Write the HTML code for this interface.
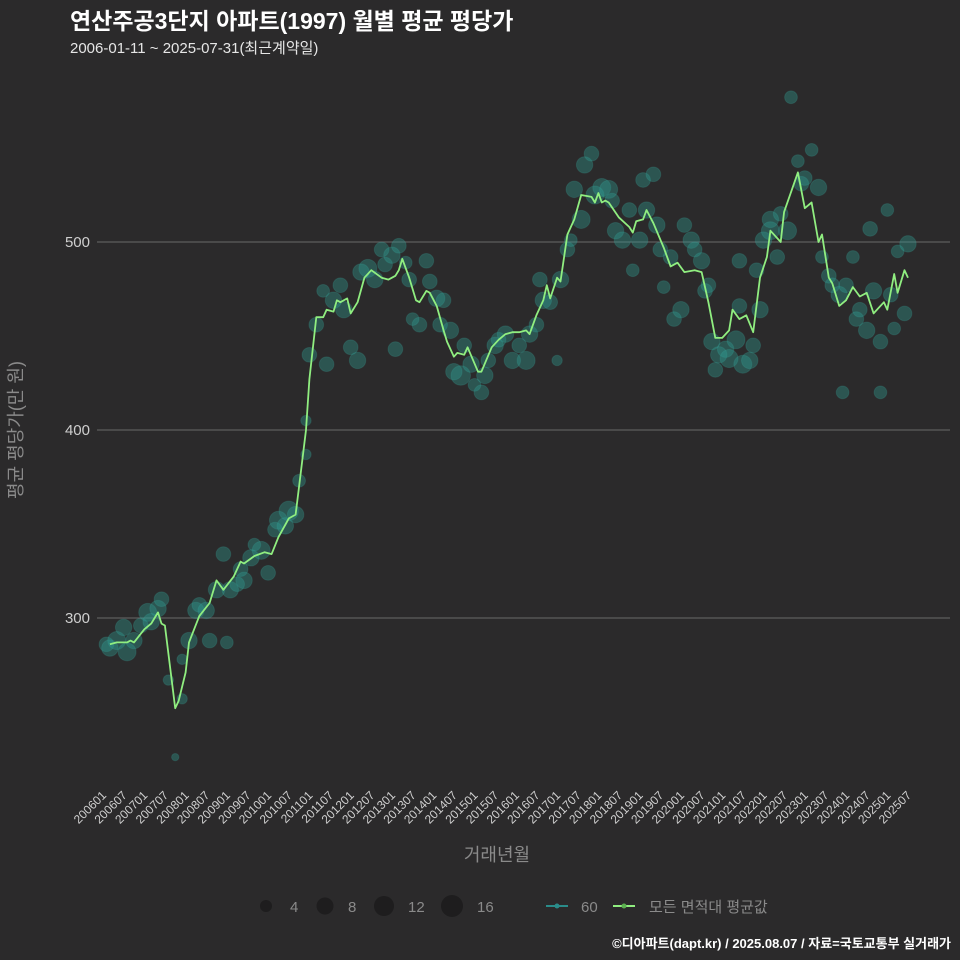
<!DOCTYPE html>
<html><head><meta charset="utf-8">
<style>
body{margin:0;background:#2b2a2b;}
svg{display:block;font-family:"Liberation Sans","Noto Sans CJK KR",sans-serif;}
</style></head>
<body>
<svg id="chart" width="960" height="960" viewBox="0 0 960 960">
<rect x="0" y="0" width="960" height="960" fill="#2b2a2b"/>
<text x="70" y="29" fill="#ffffff" font-size="23" font-weight="bold">연산주공3단지 아파트(1997) 월별 평균 평당가</text>
<text x="70" y="53" fill="#e6e6e6" font-size="15">2006-01-11 ~ 2025-07-31(최근계약일)</text>
<g id="grid"></g>
<g id="bubbles"></g>
<g id="line"></g>
<g id="xaxis"></g>
<g id="yaxis"></g>
<text x="497" y="861" fill="#8a8a8a" font-size="18" text-anchor="middle">거래년월</text>
<text transform="translate(22,430) rotate(-90)" fill="#8a8a8a" font-size="18" text-anchor="middle">평균 평당가(만 원)</text>
<g>
 <g><circle cx="266" cy="906" r="6" fill="#1e1d1e"/><text x="290" y="912" fill="#8a8a8a" font-size="15">4</text></g>
 <g><circle cx="325" cy="906" r="8.5" fill="#1e1d1e"/><text x="348" y="912" fill="#8a8a8a" font-size="15">8</text></g>
 <g><circle cx="384" cy="906" r="10" fill="#1e1d1e"/><text x="408" y="912" fill="#8a8a8a" font-size="15">12</text></g>
 <g><circle cx="452" cy="906" r="11" fill="#1e1d1e"/><text x="477" y="912" fill="#8a8a8a" font-size="15">16</text></g>
 <g><line x1="546" y1="906" x2="568" y2="906" stroke="#2a8c8a" stroke-width="2"/><circle cx="557" cy="906" r="2.5" fill="#2a8c8a"/><text x="581" y="912" fill="#8a8a8a" font-size="15">60</text></g>
 <g><line x1="613" y1="906" x2="635" y2="906" stroke="#90ee80" stroke-width="2"/><circle cx="624" cy="906" r="2.5" fill="#5cb050"/><text x="649" y="912" fill="#8a8a8a" font-size="15">모든 면적대 평균값</text></g>
</g>
<text x="951" y="948" fill="#ffffff" font-size="13" font-weight="bold" text-anchor="end">©디아파트(dapt.kr) / 2025.08.07 / 자료=국토교통부 실거래가</text>
</svg>
<script>
const yTicks=[300,400,500];
const lineMonth=[2,4,7,8,9,12,14,16,17,18,21,22,24,25,28,31,33,35,38,40,41,44,47,49,51,54,56,57,59,60,62,64,65,67,68,69,71,72,74,76,78,81,83,85,86,87,89,91,92,94,95,97,99,100,102,103,105,106,109,110,113,115,117,119,121,123,124,126,128,129,130,132,133,135,137,139,142,143,144,145,146,147,150,153,154,155,157,158,160,163,165,167,169,172,174,176,178,180,182,183,185,187,189,191,193,194,197,198,202,204,206,208,209,211,212,214,216,218,220,222,224,227,228,230,231,233,234];
const lineValue=[286,287,287,288,287,294,297,303,297,296,252,256,271,287,301,308,320,315,322,330,329,333,335,334,343,353,355,370,400,427,460,460,464,463,469,468,470,462,468,481,485,481,480,482,485,491,481,469,468,474,473,466,453,447,439,441,440,444,431,431,444,448,451,452,452,453,451,461,469,477,470,481,479,504,512,525,524,521,526,521,522,521,513,508,505,511,512,517,510,497,487,489,484,485,484,468,449,449,453,464,459,461,452,481,492,506,500,516,537,518,521,500,504,481,478,466,469,476,471,473,462,468,464,483,473,485,481];
const bubbleMonth=[1,2,4,6,7,9,11,13,14,16,17,19,21,23,23,25,27,28,30,31,33,35,36,37,39,40,41,43,44,46,48,50,51,53,54,56,57,59,59,60,62,64,65,67,69,70,72,74,75,77,79,81,82,84,85,86,88,89,90,92,94,95,97,98,99,101,102,104,105,107,108,110,111,112,114,115,117,119,121,123,124,126,127,128,130,132,133,135,136,137,139,140,142,143,145,147,148,149,151,153,154,156,157,158,160,161,162,163,165,166,168,169,171,172,174,175,176,177,178,179,181,182,184,185,185,186,188,189,190,191,192,194,194,196,197,199,200,202,203,204,206,208,209,211,212,214,215,216,218,219,220,222,223,224,226,226,228,229,230,231,233,234];
const bubbleValue=[286,284,288,295,282,288,296,303,298,305,310,267,226,257,278,288,304,307,304,288,315,334,287,315,318,326,320,332,339,336,324,347,352,349,357,355,373,387,405,440,456,474,435,469,477,464,444,437,484,486,480,496,488,493,443,498,489,480,459,456,490,479,470,456,469,453,431,429,445,435,424,420,429,437,445,448,451,437,445,437,451,456,480,469,468,437,480,496,501,528,512,541,547,525,529,528,522,506,501,517,485,501,533,517,536,509,496,476,492,459,464,509,501,496,490,474,477,447,432,440,443,438,448,466,490,435,437,445,485,464,501,512,506,492,515,506,577,543,531,534,549,529,492,482,477,472,420,477,492,459,464,453,507,474,420,447,517,472,454,495,462,499];
const bubbleCount=[8,10,12,10,12,10,8,12,10,10,8,4,2,4,4,10,10,8,10,8,10,8,6,10,8,8,10,10,6,12,8,8,12,10,14,10,6,4,4,8,8,6,8,10,8,10,8,10,10,12,10,8,8,10,8,8,6,8,6,8,8,8,10,8,8,10,10,14,8,10,6,8,10,8,10,8,10,10,8,12,10,8,8,10,8,4,10,8,6,10,12,10,8,12,12,12,8,10,10,8,6,10,8,10,8,10,8,6,8,8,10,8,10,8,10,8,8,10,8,10,10,12,12,8,8,12,10,8,8,10,10,10,12,8,8,12,6,6,8,8,6,10,6,8,8,10,6,8,6,8,8,10,8,10,6,8,6,8,6,6,8,10];
const xTickLabels=[];
for(let y=2006;y<=2025;y++){xTickLabels.push(y+'01');xTickLabels.push(y+'07');}

const NS='http://www.w3.org/2000/svg';
const X0=103,PXM=3.44;
function xScale(m){return X0+m*PXM;}
function yScale(v){return 242+(500-v)*1.88;}
function monthOf(lbl){return (parseInt(lbl.slice(0,4))-2006)*12+parseInt(lbl.slice(4))-1;}
function mk(tag,attrs,parent){const e=document.createElementNS(NS,tag);for(const k in attrs)e.setAttribute(k,attrs[k]);parent.appendChild(e);return e;}

const grid=document.getElementById('grid');
const yaxis=document.getElementById('yaxis');
yTicks.forEach(v=>{
  const l=mk('line',{x1:97,x2:950,y1:yScale(v),y2:yScale(v),stroke:'#5e5d5e','stroke-width':1.2},grid);
  
  
  const t=mk('text',{x:90,y:yScale(v)+5,fill:'#cfcfcf','font-size':15,'text-anchor':'end'},yaxis);
  t.textContent=v;
  
  
});

const xaxis=document.getElementById('xaxis');
xTickLabels.forEach(lbl=>{
  const m=monthOf(lbl);
  if(m>234)return;
  const x=xScale(m);
  const t=mk('text',{transform:'translate('+(x+4)+',796) rotate(-45)',fill:'#cfcfcf','font-size':12,'text-anchor':'end'},xaxis);
  t.textContent=lbl;
  
  
});

const bub=document.getElementById('bubbles');
bubbleMonth.forEach((m,i)=>{
  const c=mk('circle',{cx:xScale(m),cy:yScale(bubbleValue[i]),r:2.6*Math.sqrt(bubbleCount[i]),fill:'#2f9a91','fill-opacity':0.38,stroke:'#3aa89e','stroke-opacity':0.2},bub);
  
  
});

const lg=document.getElementById('line');
const d=lineMonth.map((m,i)=>(i?'L':'M')+xScale(m).toFixed(1)+','+yScale(lineValue[i]).toFixed(1)).join('');
const p=mk('path',{d:d,fill:'none',stroke:'#90ee80','stroke-width':1.8,'stroke-linejoin':'round'},lg);


</script>
</body></html>
